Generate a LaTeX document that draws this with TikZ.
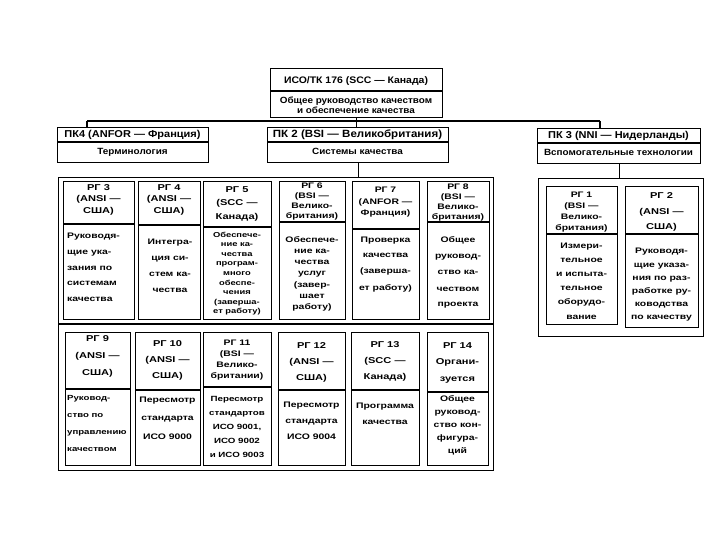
\documentclass[tikz,border=0pt]{standalone}
\usepackage{fontspec}
\setmainfont{Liberation Sans}[FakeStretch=1.1]
\newfontfamily\wfont{Liberation Sans}[FakeStretch=1.3]
\newcommand\MLc[1]{\begin{tabular}[t]{@{}c@{}}#1\end{tabular}}
\newcommand\MLl[1]{\begin{tabular}[t]{@{}l@{}}#1\end{tabular}}
\begin{document}
\begin{tikzpicture}[x=1pt,y=-1pt,
  bx/.style={draw, line width=1.1pt, inner sep=0pt, anchor=north west},
  ln/.style={line width=1.1pt},
  tx/.style 2 args={font=\fontsize{#1}{#2}\selectfont\bfseries, inner sep=0pt, anchor=base},
  tw/.style 2 args={font=\wfont\fontsize{#1}{#2}\selectfont\bfseries, inner sep=0pt, anchor=base}]
\useasboundingbox[fill=white] (0,0) rectangle (720,540);

% ---------- top ----------
\node[bx, minimum width=172pt, minimum height=49pt] (top) at (270,68) {};
\draw[ln] (top.west |- 0,91) -- (top.east |- 0,91);
\node[tx={9.5}{11}] (topt) at (356,83.5) {ИСО/ТК 176 (SCC — Канада)};
\node[tx={9}{9}] (topb) at (356,104) {\MLc{Общее руководство качеством\\и обеспечение качества}};

% ---------- ПК boxes ----------
\node[bx, minimum width=151pt, minimum height=35pt] (pk4) at (57,127) {};
\draw[ln] (pk4.west |- 0,142) -- (pk4.east |- 0,142);
\node[tx={10}{12}] (pk4t) at (132.5,137.8) {ПК4 (ANFOR — Франция)};
\node[tx={9}{11}] (pk4b) at (132.5,155) {Терминология};

\node[bx, minimum width=181pt, minimum height=35pt] (pk2) at (267,127) {};
\draw[ln] (pk2.west |- 0,142) -- (pk2.east |- 0,142);
\node[tx={10.5}{12}] (pk2t) at (357.5,137.8) {ПК 2 (BSI — Великобритания)};
\node[tx={9}{11}] (pk2b) at (357.5,155) {Системы качества};

\node[bx, minimum width=163pt, minimum height=35pt] (pk3) at (537,128) {};
\draw[ln] (pk3.west |- 0,143) -- (pk3.east |- 0,143);
\node[tx={10}{12}] (pk3t) at (618.5,138.8) {ПК 3 (NNI — Нидерланды)};
\node[tx={9}{11}] (pk3b) at (618.5,156) {Вспомогательные технологии};

% ---------- groups ----------
\node[bx, minimum width=435pt, minimum height=293pt] (gl) at (58,177) {};
\draw[ln] (gl.west |- 0,324) -- (gl.east |- 0,324);
\node[bx, minimum width=165pt, minimum height=158pt] (gr) at (538,178) {};

% ---------- connectors ----------
\coordinate (b4) at (87,121);
\coordinate (b3) at (600,121);
\draw[ln] (b4) -- (b3);
\draw[ln] (b4) -- (b4 |- pk4.north);
\draw[ln] (b3) -- (b3 |- pk3.north);
\draw[ln] (top.south) -- (top.south |- pk2.north);
\draw[ln] (pk2.south) -- (pk2.south |- gl.north);
\draw[ln] (pk3.south) -- (pk3.south |- gr.north);

% ---------- row 1 ----------
\node[bx, minimum width=71pt, minimum height=138pt] (rg3) at (63,181) {};
\draw[ln] (rg3.west |- 0,224) -- (rg3.east |- 0,224);
\node[tw={8.5}{11.5}] (rg3t) at (98.5,190.5) {\MLc{РГ 3\\(ANSI —\\США)}};
\node[tw={8}{15.8}, anchor=base west] (rg3b) at (67,238.5) {\MLl{Руководя-\\щие ука-\\зания по\\системам\\качества}};

\node[bx, minimum width=62pt, minimum height=138pt] (rg4) at (138,181) {};
\draw[ln] (rg4.west |- 0,225) -- (rg4.east |- 0,225);
\node[tw={8.5}{11.5}] (rg4t) at (169,190.5) {\MLc{РГ 4\\(ANSI —\\США)}};
\node[tw={8}{16.3}] (rg4b) at (170,244) {\MLc{Интегра-\\ция си-\\стем ка-\\чества}};

\node[bx, minimum width=68pt, minimum height=138pt] (rg5) at (203,181) {};
\draw[ln] (rg5.west |- 0,227) -- (rg5.east |- 0,227);
\node[tw={8.5}{13.5}] (rg5t) at (237,192.5) {\MLc{РГ 5\\(SCC —\\Канада)}};
\node[tw={7.2}{9.6}] (rg5b) at (237,237) {\MLc{Обеспече-\\ние ка-\\чества\\програм-\\много\\обеспе-\\чения\\(заверша-\\ет работу)}};

\node[bx, minimum width=66pt, minimum height=138pt] (rg6) at (279,181) {};
\draw[ln] (rg6.west |- 0,222) -- (rg6.east |- 0,222);
\node[tw={8}{9.7}] (rg6t) at (312,189) {\MLc{РГ 6\\(BSI —\\Велико-\\британия)}};
\node[tw={8}{11.3}] (rg6b) at (312,242) {\MLc{Обеспече-\\ние ка-\\чества\\услуг\\(завер-\\шает\\работу)}};

\node[bx, minimum width=67pt, minimum height=138pt] (rg7) at (352,181) {};
\draw[ln] (rg7.west |- 0,229) -- (rg7.east |- 0,229);
\node[tw={8}{11.5}] (rg7t) at (385.5,193) {\MLc{РГ 7\\(ANFOR —\\Франция)}};
\node[tw={8}{16}] (rg7b) at (385.5,242) {\MLc{Проверка\\качества\\(заверша-\\ет работу)}};

\node[bx, minimum width=62pt, minimum height=138pt] (rg8) at (427,181) {};
\draw[ln] (rg8.west |- 0,222) -- (rg8.east |- 0,222);
\node[tw={8}{9.7}] (rg8t) at (458,190) {\MLc{РГ 8\\(BSI —\\Велико-\\британия)}};
\node[tw={8}{16}] (rg8b) at (458,243) {\MLc{Общее\\руковод-\\ство ка-\\чеством\\проекта}};

% ---------- row 2 ----------
\node[bx, minimum width=65pt, minimum height=133pt] (rg9) at (65,332) {};
\draw[ln] (rg9.west |- 0,389) -- (rg9.east |- 0,389);
\node[tw={8.5}{17}] (rg9t) at (97.5,341.5) {\MLc{РГ 9\\(ANSI —\\США)}};
\node[tw={7.4}{17.3}, anchor=base west] (rg9b) at (67,400) {\MLl{Руковод-\\ство по\\управлению\\качеством}};

\node[bx, minimum width=65pt, minimum height=133pt] (rg10) at (135,332) {};
\draw[ln] (rg10.west |- 0,390) -- (rg10.east |- 0,390);
\node[tw={8.5}{16}] (rg10t) at (167.5,346) {\MLc{РГ 10\\(ANSI —\\США)}};
\node[tw={8}{18.5}] (rg10b) at (167.5,402) {\MLc{Пересмотр\\стандарта\\ИСО 9000}};

\node[bx, minimum width=68pt, minimum height=133pt] (rg11) at (203,332) {};
\draw[ln] (rg11.west |- 0,387) -- (rg11.east |- 0,387);
\node[tw={8}{11}] (rg11t) at (237,345) {\MLc{РГ 11\\(BSI —\\Велико-\\британии)}};
\node[tw={7.5}{14}] (rg11b) at (237,401) {\MLc{Пересмотр\\стандартов\\ИСО 9001,\\ИСО 9002\\и ИСО 9003}};

\node[bx, minimum width=67pt, minimum height=133pt] (rg12) at (278,332) {};
\draw[ln] (rg12.west |- 0,390) -- (rg12.east |- 0,390);
\node[tw={8.5}{16}] (rg12t) at (311.5,348) {\MLc{РГ 12\\(ANSI —\\США)}};
\node[tw={8}{16}] (rg12b) at (311.5,407) {\MLc{Пересмотр\\стандарта\\ИСО 9004}};

\node[bx, minimum width=68pt, minimum height=133pt] (rg13) at (351,332) {};
\draw[ln] (rg13.west |- 0,390) -- (rg13.east |- 0,390);
\node[tw={8.5}{16}] (rg13t) at (385,347) {\MLc{РГ 13\\(SCC —\\Канада)}};
\node[tw={8}{16}] (rg13b) at (385,408) {\MLc{Программа\\качества}};

\node[bx, minimum width=61pt, minimum height=133pt] (rg14) at (427,332) {};
\draw[ln] (rg14.west |- 0,392) -- (rg14.east |- 0,392);
\node[tw={8.5}{16.5}] (rg14t) at (457.5,348) {\MLc{РГ 14\\Органи-\\зуется}};
\node[tw={8}{13}] (rg14b) at (457.5,401) {\MLc{Общее\\руковод-\\ство кон-\\фигура-\\ций}};

% ---------- right group ----------
\node[bx, minimum width=71pt, minimum height=138pt] (rg1) at (546,186) {};
\draw[ln] (rg1.west |- 0,234) -- (rg1.east |- 0,234);
\node[tw={8}{11}] (rg1t) at (581.5,197) {\MLc{РГ 1\\(BSI —\\Велико-\\британия)}};
\node[tw={8}{14.2}] (rg1b) at (581.5,248) {\MLc{Измери-\\тельное\\и испыта-\\тельное\\оборудо-\\вание}};

\node[bx, minimum width=73pt, minimum height=141pt] (rg2) at (625,186) {};
\draw[ln] (rg2.west |- 0,234) -- (rg2.east |- 0,234);
\node[tw={8.5}{15.5}] (rg2t) at (661.5,199) {\MLc{РГ 2\\(ANSI —\\США)}};
\node[tw={8}{13.2}] (rg2b) at (661.5,254) {\MLc{Руководя-\\щие указа-\\ния по раз-\\работке ру-\\ководства\\по качеству}};
\end{tikzpicture}
\end{document}
